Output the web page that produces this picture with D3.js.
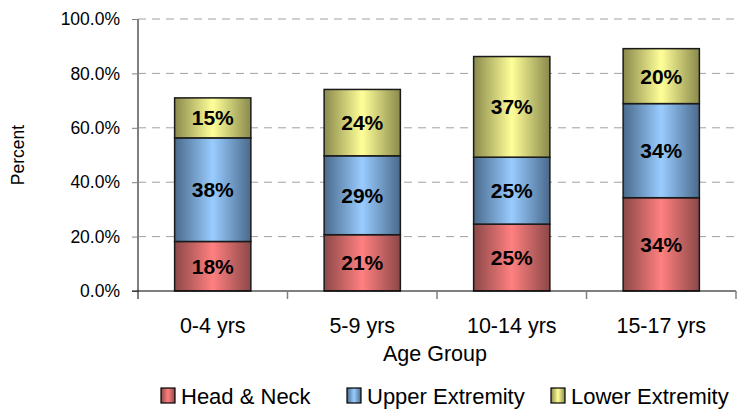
<!DOCTYPE html>
<html>
<head>
<meta charset="utf-8">
<script src="https://cdn.jsdelivr.net/npm/d3@7"></script>
<style>
  body { margin: 0; background: #fff; }
  text { font-family: Arial, "Liberation Sans", sans-serif; }
</style>
</head>
<body>
<script>
// chart data
var categories = ["0-4 yrs", "5-9 yrs", "10-14 yrs", "15-17 yrs"];
var seriesNames = ["Head & Neck", "Upper Extremity", "Lower Extremity"];
var headNeck = [18.2, 20.7, 24.6, 34.3];
var upperExt = [38.1, 29.0, 24.6, 34.6];
var lowerExt = [14.7, 24.4, 37.0, 20.2];
var pointLabels = [["18%", "21%", "25%", "34%"], ["38%", "29%", "25%", "34%"], ["15%", "24%", "37%", "20%"]];
var yTicks = [0, 20, 40, 60, 80, 100];

var w = 743, h = 410;
var margin = { left: 138, right: 7, top: 19, bottom: 119 };
var plotW = w - margin.left - margin.right;
var plotH = h - margin.top - margin.bottom;

var colors = [
    { edge: "#8c4848", mid: "#ff8080" },
    { edge: "#4a6a8c", mid: "#99ccff" },
    { edge: "#8a8a4c", mid: "#ffff99" }
];

var svg = d3.select("body").append("svg")
    .attr("width", w)
    .attr("height", h);

// horizontal gradients like the old office bars
var defs = svg.append("defs");
colors.forEach(function (c, i) {
    var g = defs.append("linearGradient")
        .attr("id", "grad" + i)
        .attr("x1", "0%").attr("x2", "100%")
        .attr("y1", "0%").attr("y2", "0%");
    g.append("stop").attr("offset", "0%").attr("stop-color", c.edge);
    g.append("stop").attr("offset", "50%").attr("stop-color", c.mid);
    g.append("stop").attr("offset", "100%").attr("stop-color", c.edge);
});

var g = svg.append("g")
    .attr("transform", "translate(" + margin.left + "," + margin.top + ")");

var x = d3.scaleBand()
    .domain(categories)
    .range([0, plotW])
    .paddingInner(0.49)
    .paddingOuter(0.245);

var y = d3.scaleLinear()
    .domain([0, 100])
    .range([plotH, 0]);

// gridlines
g.selectAll("line.grid")
    .data(yTicks.filter(function (d) { return d > 0; }))
    .enter().append("line")
    .attr("class", "grid")
    .attr("x1", 0).attr("x2", plotW)
    .attr("y1", function (d) { return y(d); })
    .attr("y2", function (d) { return y(d); })
    .attr("stroke", "#a0a0a0")
    .attr("stroke-width", 1)
    .attr("stroke-dasharray", "8,6");

// stack
var rows = categories.map(function (c, i) {
    return { cat: c, s0: headNeck[i], s1: upperExt[i], s2: lowerExt[i] };
});
var stacked = d3.stack().keys(["s0", "s1", "s2"])(rows);

stacked.forEach(function (layer, si) {
    var lg = g.append("g");
    lg.selectAll("rect")
        .data(layer)
        .enter().append("rect")
        .attr("x", function (d) { return x(d.data.cat); })
        .attr("y", function (d) { return y(d[1]); })
        .attr("width", x.bandwidth())
        .attr("height", function (d) { return y(d[0]) - y(d[1]); })
        .attr("fill", "url(#grad" + si + ")")
        .attr("stroke", "#1a1a1a")
        .attr("stroke-width", 1.5);
    lg.selectAll("text")
        .data(layer)
        .enter().append("text")
        .attr("x", function (d) { return x(d.data.cat) + x.bandwidth() / 2; })
        .attr("y", function (d) { return (y(d[0]) + y(d[1])) / 2; })
        .attr("dy", "0.36em")
        .attr("text-anchor", "middle")
        .attr("font-size", "21px")
        .attr("font-weight", "bold")
        .attr("fill", "#000")
        .text(function (d, i) { return pointLabels[si][i]; });
});

// y axis
var yAxis = d3.axisLeft(y)
    .tickValues(yTicks)
    .tickSize(6)
    .tickPadding(12)
    .tickFormat(function (d) { return d.toFixed(1) + "%"; });
var ya = g.append("g").call(yAxis);
ya.select(".domain").attr("stroke", "#808080").attr("stroke-width", 2).attr("d", "M0," + (plotH + 8) + "V0");
ya.selectAll(".tick line").attr("stroke", "#808080");
ya.selectAll(".tick text").attr("font-size", "17.5px").attr("fill", "#000");

// x axis
var xa = g.append("g").attr("transform", "translate(0," + plotH + ")");
xa.append("line")
    .attr("x1", -6).attr("x2", plotW)
    .attr("stroke", "#000").attr("stroke-width", 1);
var step = x.step();
xa.selectAll("line.tk")
    .data(d3.range(1, categories.length + 1))
    .enter().append("line")
    .attr("class", "tk")
    .attr("x1", function (d) { return d * step; })
    .attr("x2", function (d) { return d * step; })
    .attr("y1", 0).attr("y2", 8)
    .attr("stroke", "#808080").attr("stroke-width", 1.5);
xa.selectAll("text")
    .data(categories)
    .enter().append("text")
    .attr("x", function (d) { return x(d) + x.bandwidth() / 2; })
    .attr("y", 42)
    .attr("text-anchor", "middle")
    .attr("font-size", "21.5px")
    .attr("fill", "#000")
    .text(function (d) { return d; });

// axis titles
svg.append("text")
    .attr("x", margin.left + plotW / 2 - 2)
    .attr("y", 361)
    .attr("text-anchor", "middle")
    .attr("font-size", "21.5px")
    .text("Age Group");
svg.append("text")
    .attr("transform", "translate(24,155) rotate(-90)")
    .attr("text-anchor", "middle")
    .attr("font-size", "17.5px")
    .text("Percent");

// legend
var legendX = [161, 347, 551];
var lgd = svg.selectAll("g.legend")
    .data(seriesNames)
    .enter().append("g")
    .attr("class", "legend")
    .attr("transform", function (d, i) { return "translate(" + legendX[i] + ",388)"; });
lgd.append("rect")
    .attr("width", 14).attr("height", 15)
    .attr("fill", function (d, i) { return "url(#grad" + i + ")"; })
    .attr("stroke", "#000").attr("stroke-width", 1.2);
lgd.append("text")
    .attr("x", 20).attr("y", 8)
    .attr("dy", "0.36em")
    .attr("font-size", "22px")
    .text(function (d) { return d; });
</script>
</body>
</html>
